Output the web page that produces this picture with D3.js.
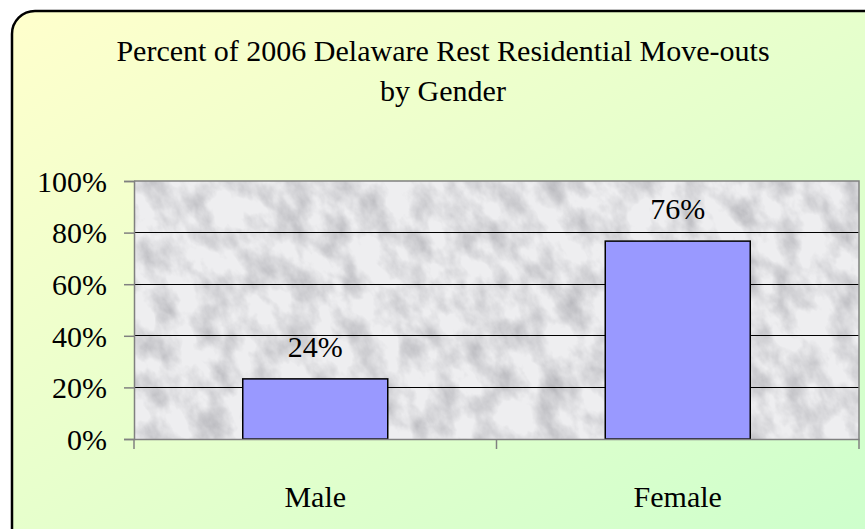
<!DOCTYPE html>
<html><head><meta charset="utf-8">
<script src="https://cdn.jsdelivr.net/npm/d3@7"></script>
<style>html,body{margin:0;padding:0;background:#fff;overflow:hidden}
svg text{font-family:"Liberation Serif","Times New Roman",serif;}</style>
</head><body>
<script>
const titleLines = ["Percent of 2006 Delaware Rest Residential Move-outs", "by Gender"];
const categories = ["Male", "Female"];
const values = [23.3, 76.7];
const valueLabels = ["24%", "76%"];
const yTicks = [0, 20, 40, 60, 80, 100];

const W = 865, H = 529, FS = 30;
const svg = d3.select("body").append("svg").attr("width", W).attr("height", H);
const defs = svg.append("defs");

const bg = defs.append("linearGradient").attr("id","bg").attr("x1","0").attr("y1","0").attr("x2","1").attr("y2","1");
bg.append("stop").attr("offset","0").attr("stop-color","#ffffcc");
bg.append("stop").attr("offset","1").attr("stop-color","#ccffcc");

const f = defs.append("filter").attr("id","marble").attr("x","0").attr("y","0").attr("width","1").attr("height","1");
f.append("feTurbulence").attr("type","fractalNoise").attr("baseFrequency","0.04 0.028").attr("numOctaves",5).attr("seed",9).attr("result","n");
f.append("feColorMatrix").attr("in","n").attr("type","matrix")
 .attr("values","0 0 0 0 0.42  0 0 0 0 0.42  0 0 0 0 0.45  1.6 0 0 0 -0.6");

svg.append("rect").attr("x",12).attr("y",11).attr("width",880).attr("height",540).attr("rx",23)
  .attr("fill","url(#bg)").attr("stroke","#000").attr("stroke-width",2.5);

const m = {left:134, top:181, right:859, bottom:439};
const x = d3.scaleBand().domain(categories).range([m.left, m.right]).padding(0);
const y = d3.scaleLinear().domain([0,100]).range([m.bottom, m.top]);

const clip = defs.append("clipPath").attr("id","pc");
clip.append("rect").attr("x",m.left).attr("y",m.top).attr("width",m.right-m.left).attr("height",m.bottom-m.top);
const pa = svg.append("g").attr("clip-path","url(#pc)");
pa.append("rect").attr("x",m.left).attr("y",m.top).attr("width",m.right-m.left).attr("height",m.bottom-m.top).attr("fill","#eeeef0");
pa.append("rect").attr("x",m.left-200).attr("y",m.top-400).attr("width",1200).attr("height",1000)
  .attr("fill","#888").attr("filter","url(#marble)")
  .attr("transform",`rotate(-30 ${(m.left+m.right)/2} ${(m.top+m.bottom)/2})`);

svg.append("g").selectAll("line").data(yTicks.filter(d=>d>0 && d<100)).join("line")
  .attr("x1",m.left).attr("x2",m.right).attr("y1",d=>y(d)).attr("y2",d=>y(d))
  .attr("stroke","#000").attr("stroke-width",1).attr("shape-rendering","crispEdges");

svg.append("path").attr("d",`M${m.left},${m.top}H${m.right}V${m.bottom}`).attr("fill","none")
  .attr("stroke","#808080").attr("stroke-width",1.5);

const bw = x.bandwidth()*0.4;
svg.append("g").selectAll("rect").data(values).join("rect")
  .attr("x",(d,i)=>x(categories[i])+x.bandwidth()/2-bw/2)
  .attr("y",d=>y(d)).attr("width",bw).attr("height",d=>y(0)-y(d))
  .attr("fill","#9999ff").attr("stroke","#000").attr("stroke-width",1.5);

svg.append("g").selectAll("text").data(values).join("text")
  .attr("x",(d,i)=>x(categories[i])+x.bandwidth()/2).attr("y",d=>y(d)-22)
  .attr("text-anchor","middle").attr("font-size",FS).attr("fill","#000")
  .text((d,i)=>valueLabels[i]);

const ya = svg.append("g").attr("transform",`translate(${m.left},0)`)
  .call(d3.axisLeft(y).tickValues(yTicks).tickFormat(d=>d+"%").tickSize(10).tickPadding(17));
ya.attr("font-family",null).attr("font-size",null);
ya.select(".domain").attr("stroke","#808080").attr("stroke-width",1.5);
ya.selectAll(".tick line").attr("stroke","#808080").attr("stroke-width",1.5);
ya.selectAll("text").attr("font-size",FS).attr("fill","#000").attr("dy","0.34em");

const xa = svg.append("g").attr("transform",`translate(0,${m.bottom})`)
  .call(d3.axisBottom(x).tickSize(0).tickPadding(47));
xa.attr("font-family",null).attr("font-size",null);
xa.select(".domain").attr("stroke","#808080").attr("stroke-width",1.5);
xa.selectAll("text").attr("font-size",FS).attr("fill","#000");
const sep = [m.left].concat(categories.map(c=>x(c)+x.bandwidth()));
xa.selectAll(".sep").data(sep).join("line").attr("class","sep")
  .attr("x1",d=>d).attr("x2",d=>d).attr("y1",0).attr("y2",10)
  .attr("stroke","#808080").attr("stroke-width",1.5);

svg.append("g").selectAll("text").data(titleLines).join("text")
  .attr("x",443).attr("y",(d,i)=>61+i*40).attr("text-anchor","middle")
  .attr("font-size",FS).attr("fill","#000").text(d=>d);
</script>
</body></html>
